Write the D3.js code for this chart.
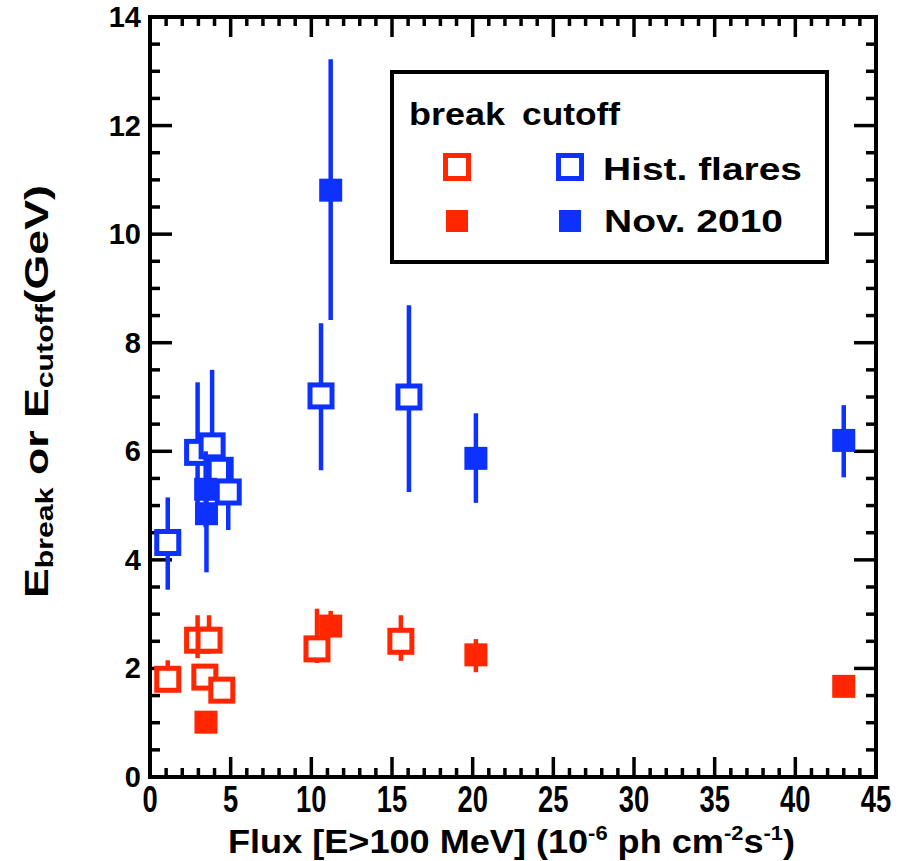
<!DOCTYPE html>
<html>
<head>
<meta charset="UTF-8">
<script src="https://d3js.org/d3.v7.min.js"></script>
<style>
  body { margin: 0; background: #fff; }
  text { font-family: "Liberation Sans", Arial, sans-serif; }
</style>
</head>
<body>
<svg id="chart"></svg>
<script>
// break energies (red) - historical flares (open) and Nov. 2010 (filled)
const breakHistX  = [1.1, 2.95, 3.66, 3.4, 4.45, 10.35, 15.55];
const breakHistY  = [1.80, 2.52, 2.52, 1.84, 1.60, 2.36, 2.50];
const breakHistLo = [1.60, 2.19, 2.30, 1.70, 1.45, 2.10, 2.14];
const breakHistHi = [2.15, 2.98, 2.98, 2.00, 1.75, 3.10, 2.98];

const breakNovX  = [3.47, 11.2, 20.2, 43.0];
const breakNovY  = [1.01, 2.78, 2.25, 1.67];
const breakNovLo = [0.90, 2.65, 1.93, 1.55];
const breakNovHi = [1.12, 3.06, 2.54, 1.80];

// cutoff energies (blue)
const cutHistX  = [1.1, 2.95, 3.85, 4.35, 4.85, 10.6, 16.05];
const cutHistY  = [4.32, 5.98, 6.10, 5.65, 5.25, 7.02, 7.00];
const cutHistLo = [3.45, 5.00, 5.30, 5.50, 4.55, 5.65, 5.25];
const cutHistHi = [5.15, 7.27, 7.50, 5.80, 5.85, 8.36, 8.69];

const cutNovX  = [3.45, 3.5, 11.2, 20.2, 43.0];
const cutNovY  = [5.30, 4.85, 10.81, 5.87, 6.20];
const cutNovLo = [4.60, 3.77, 8.42, 5.05, 5.52];
const cutNovHi = [6.00, 5.50, 13.22, 6.70, 6.85];

const xTicks = [0, 5, 10, 15, 20, 25, 30, 35, 40, 45];
const yTicks = [0, 2, 4, 6, 8, 10, 12, 14];

const RED = "#ff2600", BLUE = "#0d32ff";

const width = 910, height = 861;
const margin = { left: 150, right: 34, top: 17, bottom: 84 };

const svg = d3.select("#chart").attr("width", width).attr("height", height);

const x = d3.scaleLinear().domain([0, 45]).range([margin.left, width - margin.right]);
const y = d3.scaleLinear().domain([0, 14]).range([height - margin.bottom, margin.top]);

const x0 = x(0), x1 = x(45), y0 = y(0), y1 = y(14);

// ticks, inward on all four sides
const tickG = svg.append("g").attr("stroke", "#000").attr("stroke-width", 3.5);
d3.range(0, 45.01, 1).forEach(v => {
  const len = v % 5 === 0 ? 20 : 9;
  tickG.append("line").attr("x1", x(v)).attr("x2", x(v)).attr("y1", y0).attr("y2", y0 - len);
  tickG.append("line").attr("x1", x(v)).attr("x2", x(v)).attr("y1", y1).attr("y2", y1 + len);
});
d3.range(0, 14.01, 0.5).forEach(v => {
  const len = v % 2 === 0 ? 22 : 10;
  tickG.append("line").attr("y1", y(v)).attr("y2", y(v)).attr("x1", x0).attr("x2", x0 + len);
  tickG.append("line").attr("y1", y(v)).attr("y2", y(v)).attr("x1", x1).attr("x2", x1 - len);
});

svg.append("rect")
  .attr("x", x0).attr("y", y1).attr("width", x1 - x0).attr("height", y0 - y1)
  .attr("fill", "none").attr("stroke", "#000").attr("stroke-width", 4);

// tick labels
svg.append("g").selectAll("text").data(yTicks).join("text")
  .attr("x", 141).attr("y", d => y(d) + 10)
  .attr("text-anchor", "end").attr("font-size", 29).attr("font-weight", "bold")
  .text(d => d);

svg.append("g").selectAll("text").data(xTicks).join("text")
  .attr("transform", d => `translate(${x(d)},812) scale(0.74,1)`)
  .attr("text-anchor", "middle").attr("font-size", 37).attr("font-weight", "bold")
  .text(d => d);

// x title
const xt = svg.append("text").attr("x", 228).attr("y", 853).attr("font-size", 33)
  .attr("font-weight", "bold")
  .attr("textLength", 567).attr("lengthAdjust", "spacingAndGlyphs");
xt.append("tspan").text("Flux [E>100 MeV] (10");
xt.append("tspan").attr("font-size", 20).attr("dy", -13).text("-6");
xt.append("tspan").attr("dy", 13).text(" ph cm");
xt.append("tspan").attr("font-size", 20).attr("dy", -13).text("-2");
xt.append("tspan").attr("dy", 13).text("s");
xt.append("tspan").attr("font-size", 20).attr("dy", -13).text("-1");
xt.append("tspan").attr("dy", 13).text(")");

// y title
const ytG = svg.append("g").attr("transform", "translate(48,598) rotate(-90)");
const yt = ytG.append("text").attr("font-weight", "bold").attr("font-size", 34);
yt.append("tspan").text("E");
yt.append("tspan").attr("font-size", 23).attr("dy", 5).text("break");
yt.append("tspan").attr("dy", -5).text(" or E");
yt.append("tspan").attr("font-size", 23).attr("dy", 5).text("cutoff");
yt.append("tspan").attr("dy", -5).text("(GeV)");
const ytLen = yt.node().getComputedTextLength();
yt.attr("transform", `scale(${413 / ytLen},1)`);

// markers
function drawSeries(xs, ys, lo, hi, color, open) {
  const g = svg.append("g");
  xs.forEach((xv, i) => {
    g.append("line")
      .attr("x1", x(xv)).attr("x2", x(xv)).attr("y1", y(lo[i])).attr("y2", y(hi[i]))
      .attr("stroke", color).attr("stroke-width", 4.5);
    if (open) {
      g.append("rect").attr("x", x(xv) - 11).attr("y", y(ys[i]) - 11)
        .attr("width", 22).attr("height", 22)
        .attr("fill", "#fff").attr("stroke", color).attr("stroke-width", 5);
    } else {
      g.append("rect").attr("x", x(xv) - 11.5).attr("y", y(ys[i]) - 11.5)
        .attr("width", 23).attr("height", 23).attr("fill", color);
    }
  });
}
drawSeries(breakHistX, breakHistY, breakHistLo, breakHistHi, RED, true);
drawSeries(breakNovX, breakNovY, breakNovLo, breakNovHi, RED, false);
drawSeries(cutHistX, cutHistY, cutHistLo, cutHistHi, BLUE, true);
drawSeries(cutNovX, cutNovY, cutNovLo, cutNovHi, BLUE, false);

// legend
const lg = svg.append("g");
lg.append("rect").attr("x", 392).attr("y", 72).attr("width", 435).attr("height", 190)
  .attr("fill", "#fff").attr("stroke", "#000").attr("stroke-width", 4);
const lgText = (t, tx, ty, len) => lg.append("text").attr("x", tx).attr("y", ty)
  .attr("font-size", 31).attr("font-weight", "bold")
  .attr("textLength", len).attr("lengthAdjust", "spacingAndGlyphs").text(t);
lgText("break", 409, 125, 96);
lgText("cutoff", 522, 125, 98);
lgText("Hist. flares", 603, 180, 199);
lgText("Nov. 2010", 604, 232, 179);
[[457, RED], [570, BLUE]].forEach(([cx, c]) => {
  lg.append("rect").attr("x", cx - 11.5).attr("y", 167 - 11.5).attr("width", 23).attr("height", 23)
    .attr("fill", "#fff").attr("stroke", c).attr("stroke-width", 5);
  lg.append("rect").attr("x", cx - 11).attr("y", 221 - 11).attr("width", 22).attr("height", 22)
    .attr("fill", c);
});
</script>
</body>
</html>
